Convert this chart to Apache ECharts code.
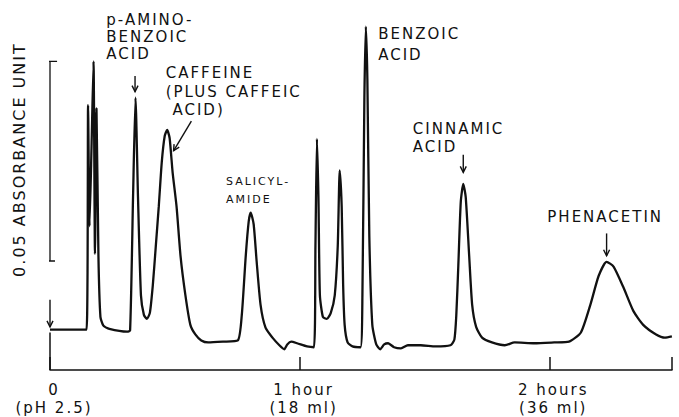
<!DOCTYPE html>
<html>
<head>
<meta charset="utf-8">
<script src="https://cdn.jsdelivr.net/npm/echarts@6/dist/echarts.min.js"></script>
<style>
  html, body { margin: 0; padding: 0; background: #fff; }
  #c { width: 679px; height: 417px; }
  /* hand-lettered look: glyphs set a little apart */
  #c svg text { letter-spacing: 2px; }
</style>
</head>
<body>
<div id="c"></div>
<script>
// Elution time in minutes (0 = injection, 18 ml of eluent per hour)
const times = [
  0, 8.79, 9.15, 9.50, 9.98, 10.46, 10.81, 11.17, 11.64, 12.12,
  12.83, 14.26, 18.53, 19.25, 19.96, 20.55, 21.15, 21.86, 22.57, 23.29,
  24.00, 24.71, 25.43, 26.14, 26.86, 27.57, 28.16, 28.75, 29.47, 30.42,
  31.37, 32.55, 33.74, 34.93, 36.36, 38.02, 41.58, 45.15, 46.10, 47.05,
  47.76, 48.24, 48.95, 49.66, 50.61, 51.80, 53.47, 55.13, 56.32, 57.03,
  57.98, 59.41, 61.78, 63.45, 63.80, 64.16, 64.52, 64.87, 65.59, 66.54,
  67.49, 68.44, 69.16, 69.63, 70.11, 70.46, 70.82, 71.53, 72.71, 74.62,
  75.09, 75.56, 75.92, 76.28, 76.75, 77.47, 78.42, 79.37, 80.32, 81.27,
  82.69, 84.36, 86.02, 89.11, 92.67, 96.24, 97.19, 97.66, 98.14, 98.73,
  99.33, 99.92, 100.75, 101.47, 102.42, 103.85, 106.22, 109.31, 111.68, 116.44,
  121.19, 124.75, 127.60, 129.98, 131.88, 133.78, 135.45, 137.82, 140.20, 142.58,
  145.67, 147.81, 149.47
];

// Detector absorbance (AU, measured from the chart base line)
const absorbance = [
  0.0101, 0.0101, 0.0663, 0.0360, 0.0557, 0.0773, 0.0291, 0.0655, 0.0286, 0.0133,
  0.0111, 0.0103, 0.0096, 0.0099, 0.0433, 0.0682, 0.0433, 0.0187, 0.0138, 0.0128,
  0.0143, 0.0212, 0.0310, 0.0409, 0.0520, 0.0586, 0.0601, 0.0581, 0.0495, 0.0409,
  0.0286, 0.0187, 0.0113, 0.0089, 0.0074, 0.0069, 0.0071, 0.0074, 0.0138, 0.0286,
  0.0372, 0.0394, 0.0365, 0.0273, 0.0163, 0.0106, 0.0081, 0.0062, 0.0052, 0.0064,
  0.0071, 0.0067, 0.0059, 0.0057, 0.0310, 0.0579, 0.0433, 0.0187, 0.0133, 0.0128,
  0.0143, 0.0187, 0.0310, 0.0500, 0.0409, 0.0212, 0.0113, 0.0069, 0.0059, 0.0057,
  0.0187, 0.0680, 0.0860, 0.0729, 0.0335, 0.0113, 0.0064, 0.0052, 0.0064, 0.0067,
  0.0057, 0.0054, 0.0062, 0.0062, 0.0059, 0.0062, 0.0076, 0.0138, 0.0261, 0.0421,
  0.0466, 0.0433, 0.0286, 0.0163, 0.0108, 0.0081, 0.0069, 0.0062, 0.0069, 0.0067,
  0.0069, 0.0071, 0.0094, 0.0167, 0.0236, 0.0271, 0.0259, 0.0207, 0.0148, 0.0113,
  0.0089, 0.0081, 0.0084
];

// Time axis ticks and their labels
const tickValues = [0, 60, 120];
const tickLabels = ['0\n(pH 2.5)', '1 hour\n(18 ml)', '2 hours\n(36 ml)'];

// Absorbance scale bar: 0.05 AU
const scaleBarBottom = 0.0273;
const scaleBarSpan = 0.05;
const scaleBarLabel = '0.05 ABSORBANCE UNIT';

// Injection level on the trace at t = 0
const injectionLevel = 0.0101;

const INK = '#111';
const FONT = '"DejaVu Sans", "Liberation Sans", sans-serif';

// Peak annotations: text block anchor (top-left) and arrow (tail -> tip), in data units
const annotations = [
  { text: 'p-AMINO-\nBENZOIC\nACID', at: [13.54, 0.0897], size: 15, lh: 17,
    arrow: [20.44, 0.0736, 20.44, 0.0697] },
  { text: 'CAFFEINE\n(PLUS CAFFEIC\n ACID)', at: [27.80, 0.0766], size: 15, lh: 18.5,
    arrow: [33.98, 0.0623, 29.70, 0.0549] },
  { text: 'SALICYL-\nAMIDE', at: [42.30, 0.0495], size: 11, lh: 18 },
  { text: 'BENZOIC\nACID', at: [78.89, 0.0867], size: 15, lh: 21 },
  { text: 'CINNAMIC\nACID', at: [87.21, 0.0626], size: 15, lh: 18,
    arrow: [99.33, 0.0539, 99.33, 0.0495] },
  { text: 'PHENACETIN', at: [119.53, 0.0404], size: 15, lh: 17,
    arrow: [133.78, 0.0342, 133.78, 0.0286] }
];

const chart = echarts.init(document.getElementById('c'), null, { renderer: 'svg' });

const trace = times.map(function (t, i) { return [t, absorbance[i]]; });
const scaleTop = scaleBarBottom + scaleBarSpan;
const scaleBar = [
  [-1.2, scaleTop], [1.7, scaleTop], [0, scaleTop],
  [0, scaleBarBottom], [-1.0, scaleBarBottom], [1.2, scaleBarBottom]
];

chart.setOption({
  animation: false,
  backgroundColor: '#fff',
  grid: { left: 50, right: 0, top: 10.6, bottom: 41, containLabel: false },
  xAxis: {
    type: 'value',
    min: 0, max: 149.5, interval: 60,
    axisLine: { show: true, lineStyle: { color: INK, width: 1.5 } },
    axisTick: { show: true, inside: true, length: 13, lineStyle: { color: INK, width: 1.5 } },
    splitLine: { show: false },
    axisLabel: {
      margin: 11,
      padding: [0, 0, 0, 8],
      color: INK, fontFamily: FONT, fontSize: 15, lineHeight: 18,
      formatter: function (v) {
        const k = tickValues.indexOf(v);
        return k >= 0 ? tickLabels[k] : '';
      }
    }
  },
  yAxis: { type: 'value', min: 0, max: 0.09, show: false },
  series: [
    {
      type: 'line', data: trace, showSymbol: false, smooth: 0.2,
      lineStyle: { color: INK, width: 2.3 }, silent: true
    },
    {
      type: 'line', data: scaleBar, showSymbol: false, clip: false,
      lineStyle: { color: INK, width: 1.3 }, silent: true
    },
    {
      type: 'line', data: [[0, 0], [0, injectionLevel - 0.0007]], showSymbol: false, clip: false,
      lineStyle: { color: INK, width: 1.5 }, silent: true
    }
  ]
});

function px(t, a) { return chart.convertToPixel({ gridIndex: 0 }, [t, a]); }

function arrowShapes(t1, a1, t2, a2) {
  const p1 = px(t1, a1), p2 = px(t2, a2);
  const dx = p2[0] - p1[0], dy = p2[1] - p1[1];
  const L = Math.hypot(dx, dy), ux = dx / L, uy = dy / L;
  const hl = 6, hw = 3;
  const bx = p2[0] - ux * hl, by = p2[1] - uy * hl;
  return [
    { type: 'polyline', silent: true,
      shape: { points: [p1, p2] }, style: { stroke: INK, lineWidth: 1.4, fill: null } },
    { type: 'polyline', silent: true,
      shape: { points: [[bx - uy * hw, by + ux * hw], p2, [bx + uy * hw, by - ux * hw]] },
      style: { stroke: INK, lineWidth: 1.4, fill: null } }
  ];
}

const elements = [];
annotations.forEach(function (an) {
  const p = px(an.at[0], an.at[1]);
  elements.push({
    type: 'text', silent: true, x: p[0], y: p[1],
    style: { text: an.text, fill: INK, font: an.size + 'px ' + FONT,
      lineHeight: an.lh, align: 'left', verticalAlign: 'top' }
  });
  if (an.arrow) {
    arrowShapes.apply(null, an.arrow).forEach(function (e) { elements.push(e); });
  }
});

// Injection mark above the start of the trace
arrowShapes(0, injectionLevel + 0.0075, 0, injectionLevel + 0.0007)
  .forEach(function (e) { elements.push(e); });

// Scale bar caption, reading upward beside the bar
const mid = px(0, scaleBarBottom + scaleBarSpan / 2 + 0.0004);
elements.push({
  type: 'text', silent: true, x: 19, y: mid[1], rotation: Math.PI / 2,
  style: { text: scaleBarLabel, fill: INK, font: '16px ' + FONT,
    align: 'center', verticalAlign: 'middle' }
});

chart.setOption({ graphic: { elements: elements } });
</script>
</body>
</html>
